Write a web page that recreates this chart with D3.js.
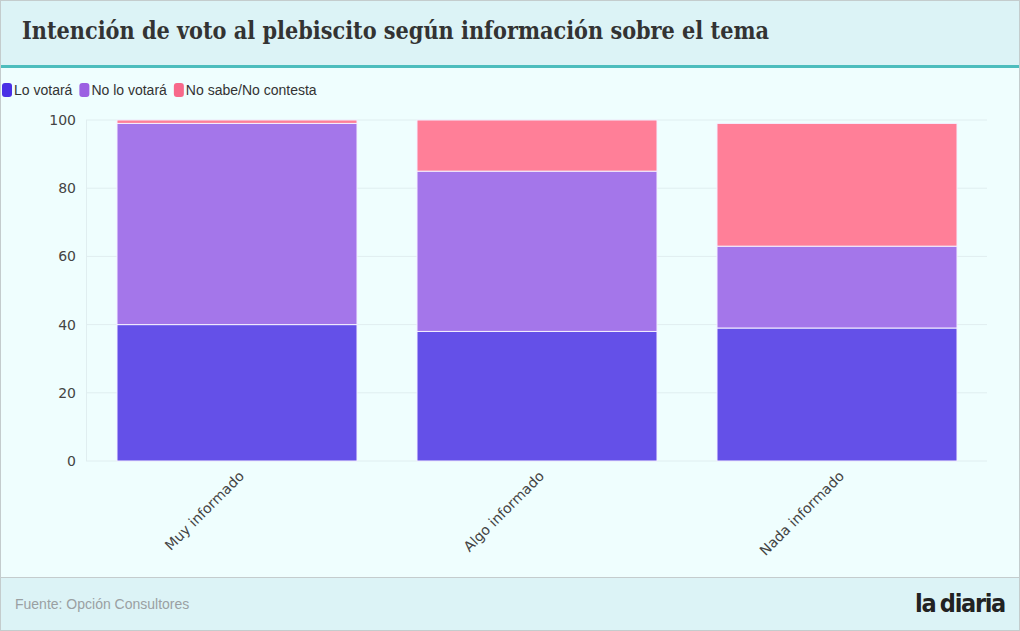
<!DOCTYPE html>
<html>
<head>
<meta charset="utf-8">
<script src="https://cdn.jsdelivr.net/npm/d3@7"></script>
<style>
  body { margin: 0; background: #fff; }
</style>
</head>
<body>
<script>
// data
var categories = ["Muy informado", "Algo informado", "Nada informado"];
var seriesNames = ["Lo votará", "No lo votará", "No sabe/No contesta"];
var loVotara = [40, 38, 39];
var noLoVotara = [59, 47, 24];
var noSabe = [1, 15, 36];
var yTicks = [0, 20, 40, 60, 80, 100];

var colors = ["#6450e8", "#a476ea", "#ff7f98"];
var legendColors = ["#4a30e6", "#9c60e2", "#f7698a"];

var width = 1020, height = 631;

var svg = d3.select("body").append("svg")
    .attr("width", width)
    .attr("height", height);

// frame
svg.append("rect").attr("x", 0.5).attr("y", 0.5)
    .attr("width", width - 1).attr("height", height - 1)
    .attr("fill", "#effefe").attr("stroke", "#c4cccd");

// header
svg.append("rect").attr("x", 1).attr("y", 1)
    .attr("width", width - 2).attr("height", 64)
    .attr("fill", "#dcf3f6");
svg.append("rect").attr("x", 1).attr("y", 65)
    .attr("width", width - 2).attr("height", 3)
    .attr("fill", "#4dbdbd");
svg.append("text")
    .attr("x", 22).attr("y", 39)
    .attr("font-family", "'DejaVu Serif Condensed', 'DejaVu Serif', serif")
    .attr("font-weight", "bold")
    .attr("font-size", "24px")
    .attr("fill", "#333")
    .attr("textLength", 747)
    .attr("lengthAdjust", "spacingAndGlyphs")
    .text("Intención de voto al plebiscito según información sobre el tema");

// footer
svg.append("rect").attr("x", 1).attr("y", 577)
    .attr("width", width - 2).attr("height", height - 578)
    .attr("fill", "#dcf3f6");
svg.append("line").attr("x1", 1).attr("x2", width - 1)
    .attr("y1", 577.5).attr("y2", 577.5)
    .attr("stroke", "#c4cccd");
svg.append("text")
    .attr("x", 15).attr("y", 609)
    .attr("font-family", "'Liberation Sans', Arial, sans-serif")
    .attr("font-size", "14px")
    .attr("fill", "#9aa0a2")
    .text("Fuente: Opción Consultores");
svg.append("text")
    .attr("x", 1005).attr("y", 612)
    .attr("text-anchor", "end")
    .attr("font-family", "'DejaVu Sans Condensed', sans-serif")
    .attr("font-weight", "bold")
    .attr("font-size", "25px")
    .attr("letter-spacing", "-1.3px")
    .attr("word-spacing", "-2px")
    .attr("fill", "#222")
    .text("la diaria");

// legend
var legend = svg.append("g");
var lx = 2;
seriesNames.forEach(function(name, i) {
    legend.append("rect")
        .attr("x", lx).attr("y", 83)
        .attr("width", 10).attr("height", 14)
        .attr("rx", 3)
        .attr("fill", legendColors[i]);
    var t = legend.append("text")
        .attr("x", lx + 12).attr("y", 95)
        .attr("font-family", "'Liberation Sans', Arial, sans-serif")
        .attr("font-size", "14px")
        .attr("fill", "#333")
        .text(name);
    lx += 12 + t.node().getComputedTextLength() + 7;
});

// scales
var x = d3.scaleBand().domain(categories).range([87, 987])
    .paddingInner(0.2).paddingOuter(0.1);
var y = d3.scaleLinear().domain([0, 100]).range([461, 120]);

// grid
svg.append("g")
    .selectAll("line")
    .data(yTicks)
    .enter()
    .append("line")
    .attr("x1", 86).attr("x2", 987)
    .attr("y1", function(d) { return y(d); })
    .attr("y2", function(d) { return y(d); })
    .attr("stroke", "#e0eef0");
svg.append("line")
    .attr("x1", 86.5).attr("x2", 86.5)
    .attr("y1", 120).attr("y2", 461)
    .attr("stroke", "#e0eef0");

// stacked bars
var table = categories.map(function(c, i) {
    return { cat: c, s0: loVotara[i], s1: noLoVotara[i], s2: noSabe[i] };
});
var stack = d3.stack().keys(["s0", "s1", "s2"])(table);

svg.append("g")
    .selectAll("g")
    .data(stack)
    .enter()
    .append("g")
    .attr("fill", function(d, i) { return colors[i]; })
    .selectAll("rect")
    .data(function(d) { return d; })
    .enter()
    .append("rect")
    .attr("x", function(d) { return x(d.data.cat); })
    .attr("y", function(d) { return y(d[1]); })
    .attr("width", x.bandwidth())
    .attr("height", function(d) { return y(d[0]) - y(d[1]); })
    .attr("stroke", "#f4f0ff")
    .attr("stroke-width", 1);

// y axis
var yAxis = svg.append("g")
    .attr("transform", "translate(86,0)")
    .call(d3.axisLeft(y).tickValues(yTicks).tickSize(0).tickPadding(10));
yAxis.select(".domain").remove();
yAxis.selectAll("text")
    .attr("font-family", "'DejaVu Sans', sans-serif")
    .attr("font-size", "14px")
    .attr("fill", "#444");

// x axis
var xAxis = svg.append("g")
    .attr("transform", "translate(0,461)")
    .call(d3.axisBottom(x).tickSize(0).tickPadding(0));
xAxis.select(".domain").remove();
xAxis.selectAll("text")
    .attr("font-family", "'DejaVu Sans', sans-serif")
    .attr("font-size", "14px")
    .attr("fill", "#444")
    .attr("text-anchor", "end")
    .attr("dy", "0")
    .attr("transform", "translate(8,16) rotate(-45)");
</script>
</body>
</html>
